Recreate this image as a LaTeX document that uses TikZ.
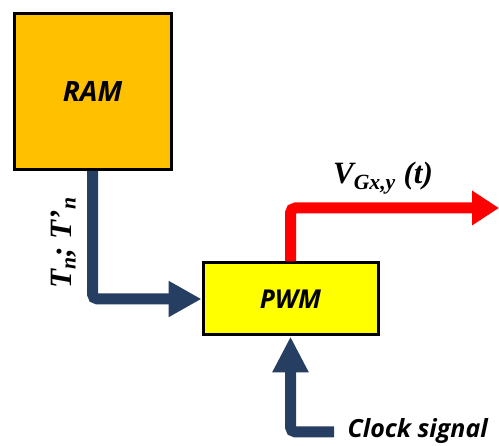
\documentclass[tikz,border=0pt]{standalone}
\usepackage{fontspec}
\setmainfont{Liberation Serif}
\newfontfamily\osans{Open Sans}
\usetikzlibrary{arrows.meta}
\definecolor{ramfill}{RGB}{255,192,0}
\definecolor{pwmfill}{RGB}{255,255,0}
\definecolor{navy}{RGB}{38,62,98}
\definecolor{sigred}{RGB}{255,0,0}
\tikzset{
  block/.style={draw=black, line width=3pt, inner sep=0pt, font=\osans\bfseries\itshape},
  bus/.style={draw=navy, line width=11pt, rounded corners=5pt},
  redbus/.style={draw=sigred, line width=11pt, rounded corners=5pt},
}
\begin{document}
\begin{tikzpicture}[x=1pt,y=-1pt]
\useasboundingbox (0,0) rectangle (499,446);
\node[block, fill=ramfill, minimum width=157pt, minimum height=156pt, font=\osans\bfseries\itshape\fontsize{28}{32}\selectfont] (ram) at (92.5,91.5) {RAM};
\node[block, fill=pwmfill, minimum width=175pt, minimum height=72pt, font=\osans\bfseries\itshape\fontsize{26}{30}\selectfont] (pwm) at (290.5,299) {PWM};
\coordinate (outend) at (499,208);
\coordinate (clkend) at (334,432);
% RAM -> PWM
\draw[bus, -{Triangle[width=34pt,length=33pt]}] (ram.south) |- (pwm.west);
% PWM -> output
\draw[redbus, -{Triangle[width=33pt,length=27pt]}] (pwm.north) |- (outend);
% Clock -> PWM
\draw[bus, -{Triangle[width=34pt,length=36pt]}] (clkend) -| (pwm.south);
\node[rotate=90, font=\bfseries\itshape\fontsize{31}{34}\selectfont] (tn) at (64,243) {T\textsubscript{n}; T’\textsubscript{n}};
\node[font=\bfseries\itshape\fontsize{31}{34}\selectfont] (vg) at (383,178) {V\textsubscript{Gx,y} (t)};
\node[anchor=west, font=\osans\bfseries\itshape\fontsize{25}{29}\selectfont] (clk) at (344,431) {Clock signal};
\end{tikzpicture}
\end{document}
